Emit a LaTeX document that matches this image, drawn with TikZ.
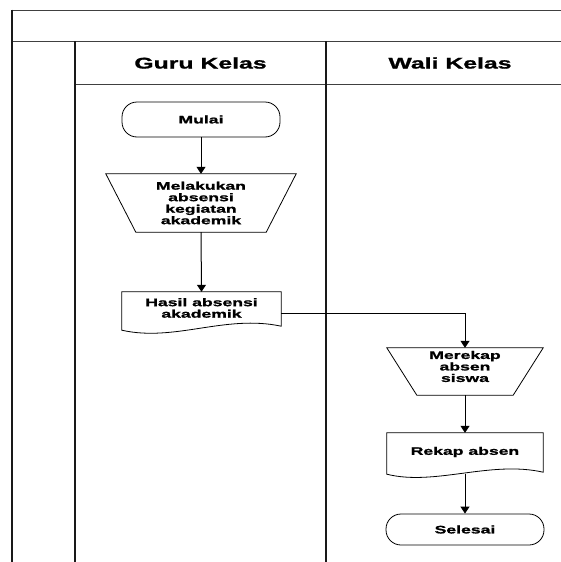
\documentclass[tikz,border=0pt]{standalone}
\usepackage{fontspec}
\newfontfamily\myStretchFont[FakeStretch=1.6, BoldFeatures={FakeBold=1.2}]{Liberation Sans}
\usetikzlibrary{arrows.meta,calc}
\newcommand\myNodeFont{\myStretchFont\bfseries\fontsize{11}{11.5}\selectfont}
\newcommand\myHeadFont{\myStretchFont\bfseries\fontsize{15.5}{18}\selectfont}
\tikzset{
  lane/.style={line width=1.6pt, draw=black!90},
  hline/.style={line width=0.9pt, draw=black!75},
  flow/.style={draw, line width=0.8pt},
  term/.style={draw, line width=0.8pt, rounded corners=15pt, minimum width=158pt, minimum height=35pt, inner sep=0pt, font=\myNodeFont},
  box/.style={draw=none, inner sep=0pt},
  txt/.style={font=\myNodeFont, align=center},
  conn/.style={line width=1pt, -{Triangle[width=9pt,length=7pt]}},
}
\begin{document}
\begin{tikzpicture}[x=1pt,y=-1pt]
\useasboundingbox (0,0) rectangle (561,562);
\path[fill=white] (0,0) rectangle (561,562);
% frame
\draw[hline] (561,10) -- (12,10);
\draw[hline] (12,41) -- (561,41);
\draw[hline] (75,84) -- (561,84);
\draw[lane] (12,9.5) -- (12,562);
\draw[lane] (75,41) -- (75,562);
\draw[lane] (326,41) -- (326,562);
\node[font=\myHeadFont] (h1) at (200.5,63) {Guru Kelas};
\node[font=\myHeadFont] (h2) at (450,63) {Wali Kelas};
% Guru Kelas lane
\node[term] (start) at (201,119.5) {Mulai};
\node[box, txt, minimum width=190pt, minimum height=58pt] (t1) at (201,203) {Melakukan\\absensi\\kegiatan\\akademik};
\draw[flow] (t1.north west) -- (t1.north east) -- ($(t1.south east)+(-30,0)$) -- ($(t1.south west)+(30,0)$) -- cycle;
\node[box, txt, minimum width=159pt, minimum height=32pt] (d1) at (201.5,308) {Hasil absensi\\akademik};
\draw[flow] ($(d1.south west)+(0,6)$) -- (d1.north west) -- (d1.north east) -- ($(d1.south east)+(0,2)$)
  .. controls ($(d1.south east)+(-56,-10)$) and ($(d1.south west)+(53,18)$) .. ($(d1.south west)+(0,6)$) -- cycle;
% Wali Kelas lane
\node[box, minimum width=156pt, minimum height=47pt,
  label={[txt, yshift=5pt]center:{Merekap\\absen\\siswa}}] (t2) at (465,371.5) {};
\draw[flow] (t2.north west) -- (t2.north east) -- ($(t2.south east)+(-30,0)$) -- ($(t2.south west)+(30,0)$) -- cycle;
\node[box, txt, minimum width=156pt, minimum height=38pt] (d2) at (465,452) {Rekap absen};
\draw[flow] ($(d2.south west)+(0,3)$) -- (d2.north west) -- (d2.north east) -- ($(d2.south east)+(0,1)$)
  .. controls ($(d2.south east)+(-53,-11)$) and ($(d2.south west)+(48,15)$) .. ($(d2.south west)+(0,3)$) -- cycle;
\node[term, minimum height=31pt] (end) at (465,529.5) {Selesai};
% connectors
\draw[conn] (start.south) -- (t1.north);
\draw[conn] (t1.south) -- (d1.north);
\draw[conn] ([yshift=-5pt]d1.east) -| (t2.north);
\draw[conn] (t2.south) -- (d2.north);
\draw[conn] ([yshift=-3pt]d2.south) -- (end.north);
\end{tikzpicture}
\end{document}
